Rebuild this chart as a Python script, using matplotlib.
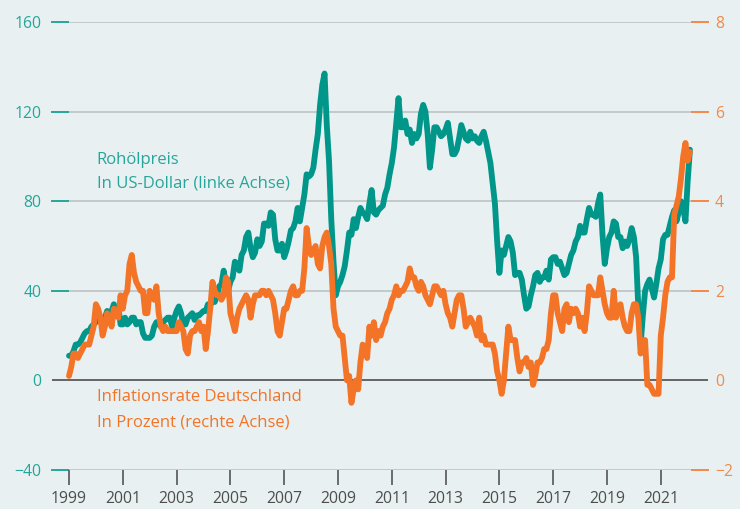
import matplotlib.pyplot as plt
import numpy as np

# Rohölpreis in US-Dollar, monatlich ab Januar 1999
oil = [
    11, 11, 13, 16, 16, 17, 19, 21, 22, 22, 24, 25,            # 1999
    26, 28, 28, 24, 28, 31, 29, 31, 34, 32, 33, 25,            # 2000
    25, 28, 25, 26, 28, 28, 25, 26, 26, 21, 19, 19,            # 2001
    19, 20, 24, 26, 25, 24, 26, 27, 28, 28, 24, 28,            # 2002
    31, 33, 30, 25, 25, 28, 29, 30, 27, 29, 29, 30,            # 2003
    31, 31, 34, 33, 38, 35, 38, 42, 43, 49, 43, 40,            # 2004
    44, 46, 53, 52, 49, 56, 58, 64, 66, 59, 55, 57,            # 2005
    63, 60, 62, 70, 70, 69, 75, 74, 63, 58, 58, 61,            # 2006
    55, 58, 62, 67, 68, 71, 77, 71, 77, 83, 92, 91,            # 2007
    92, 95, 103, 110, 123, 132, 137, 114, 98, 72, 53, 38,      # 2008
    42, 44, 47, 51, 58, 66, 65, 72, 68, 73, 77, 75,            # 2009
    74, 72, 79, 85, 75, 74, 76, 77, 78, 83, 86, 92,            # 2010
    97, 104, 115, 126, 113, 113, 116, 110, 112, 106, 110, 108, # 2011
    110, 119, 123, 120, 110, 95, 103, 113, 113, 111, 109, 110, # 2012
    112, 115, 108, 101, 101, 103, 108, 114, 111, 108, 107, 111, # 2013
    108, 109, 107, 106, 109, 111, 107, 102, 97, 88, 79, 62,    # 2014
    48, 58, 56, 60, 64, 62, 57, 47, 48, 48, 45, 38,            # 2015
    32, 33, 38, 42, 47, 48, 44, 46, 46, 49, 45, 54,            # 2016
    55, 55, 52, 53, 50, 47, 48, 52, 56, 58, 62, 64,            # 2017
    69, 66, 66, 72, 77, 74, 74, 73, 79, 83, 65, 52,            # 2018
    59, 64, 66, 71, 70, 64, 64, 59, 62, 60, 63, 68,            # 2019
    64, 55, 32, 16, 29, 40, 43, 45, 41, 37, 43, 50,            # 2020
    54, 63, 65, 65, 69, 73, 76, 71, 75, 80, 77, 71,            # 2021
    89, 103,                                                   # 2022
]

# Inflationsrate Deutschland in Prozent, monatlich ab Januar 1999
inflation = [
    0.1, 0.3, 0.6, 0.6, 0.5, 0.6, 0.7, 0.8, 0.8, 0.8, 1.0, 1.2,    # 1999
    1.7, 1.6, 1.4, 1.0, 1.2, 1.5, 1.4, 1.2, 1.6, 1.5, 1.4, 1.9,    # 2000
    1.6, 1.9, 2.0, 2.6, 2.8, 2.4, 2.2, 2.1, 2.0, 2.0, 1.5, 1.5,    # 2001
    2.0, 1.9, 1.8, 2.1, 1.5, 1.2, 1.1, 1.2, 1.1, 1.1, 1.1, 1.1,    # 2002
    1.1, 1.3, 1.2, 1.1, 0.7, 0.6, 1.0, 1.1, 1.1, 1.2, 1.3, 1.1,    # 2003
    1.2, 0.7, 1.1, 1.6, 2.2, 2.0, 1.9, 1.9, 1.8, 1.9, 2.3, 2.2,    # 2004
    1.5, 1.3, 1.1, 1.4, 1.6, 1.7, 1.8, 1.9, 1.8, 1.4, 1.7, 1.9,    # 2005
    1.9, 1.9, 2.0, 2.0, 1.9, 2.0, 1.9, 1.8, 1.5, 1.1, 1.0, 1.3,    # 2006
    1.6, 1.6, 1.8, 2.0, 2.1, 1.9, 1.9, 2.0, 2.0, 2.5, 3.4, 3.0,    # 2007
    2.8, 2.9, 3.0, 2.6, 2.5, 3.0, 3.2, 3.3, 3.0, 2.6, 1.6, 1.2,    # 2008
    1.1, 1.0, 1.0, 0.5, 0.0, 0.1, -0.5, -0.2, 0.0, -0.2, 0.4, 0.8, # 2009
    0.7, 0.5, 1.2, 1.0, 1.3, 0.9, 1.1, 1.0, 1.2, 1.3, 1.5, 1.6,    # 2010
    1.8, 1.9, 2.1, 1.9, 2.0, 2.0, 2.1, 2.2, 2.5, 2.3, 2.3, 2.1,    # 2011
    2.0, 2.2, 2.1, 1.9, 1.8, 1.7, 1.9, 2.1, 2.1, 2.0, 1.9, 2.0,    # 2012
    1.7, 1.5, 1.4, 1.2, 1.5, 1.8, 1.9, 1.9, 1.6, 1.2, 1.3, 1.4,    # 2013
    1.3, 1.2, 1.0, 1.4, 0.9, 1.0, 0.8, 0.8, 0.8, 0.8, 0.6, 0.2,    # 2014
    0.0, -0.3, 0.0, 0.6, 1.2, 0.9, 0.9, 0.9, 0.5, 0.2, 0.4, 0.4,   # 2015
    0.5, 0.3, 0.4, -0.1, 0.1, 0.4, 0.4, 0.5, 0.7, 0.7, 0.9, 1.5,   # 2016
    1.9, 1.9, 1.5, 1.3, 1.1, 1.6, 1.7, 1.3, 1.6, 1.5, 1.6, 1.5,    # 2017
    1.2, 1.4, 1.1, 1.5, 2.1, 2.0, 1.9, 1.9, 1.9, 2.3, 2.0, 1.7,    # 2018
    1.5, 1.4, 1.4, 2.0, 1.4, 1.6, 1.7, 1.4, 1.2, 1.1, 1.1, 1.5,    # 2019
    1.7, 1.7, 1.4, 0.6, 0.9, 0.9, -0.1, -0.1, -0.2, -0.3, -0.3, -0.3, # 2020
    1.0, 1.4, 1.9, 2.2, 2.3, 2.3, 3.7, 3.9, 4.1, 4.5, 5.0, 5.3,    # 2021
    4.9, 5.1,                                                      # 2022
]

start_year = 1999
year_ticks = list(range(1999, 2022, 2))
left_ticks = [-40, 0, 40, 80, 120, 160]
right_ticks = [-2, 0, 2, 4, 6, 8]

teal = '#00968a'
orange = '#f37327'
teal_label = '#26a69a'
orange_label = '#f28a4a'
bg = '#e8f0f1'

plt.rcParams['font.family'] = ['Open Sans', 'DejaVu Sans']

fig = plt.figure(figsize=(7.4, 5.09), dpi=100, facecolor=bg)
ax = fig.add_axes([52 / 740, 39 / 509, 656 / 740, 448 / 509])
ax.set_facecolor(bg)
ax.set_xlim(1998.368, 2022.755)
ax.set_ylim(-40, 160)
ax2 = ax.twinx()
ax2.set_ylim(-2, 8)

# gridlines with coloured end pieces
tr = ax.get_yaxis_transform()
edge = 16 / 656
for v in left_ticks:
    if v == 0:
        ax.plot([0, 1], [v, v], transform=tr, color='#5a5a5a', lw=1.3, zorder=1)
    else:
        ax.plot([edge, 1 - edge], [v, v], transform=tr, color='#c4c9cb', lw=1.4, zorder=1)
        ax.plot([0, edge], [v, v], transform=tr, color=teal_label, lw=1.4, zorder=1, clip_on=False)
        ax.plot([1 - edge, 1], [v, v], transform=tr, color=orange_label, lw=1.4, zorder=1, clip_on=False)

x_oil = start_year + np.arange(len(oil)) / 12
x_inf = start_year + np.arange(len(inflation)) / 12
ax.plot(x_oil, oil, color=teal, lw=4.2, solid_joinstyle='round', solid_capstyle='round', zorder=3)
ax2.plot(x_inf, inflation, color=orange, lw=4.2, solid_joinstyle='round', solid_capstyle='round', zorder=3)

for a in (ax, ax2):
    for s in a.spines.values():
        s.set_visible(False)

ax.set_xticks(year_ticks)
ax.tick_params(axis='x', length=10.8, width=1.2, color='#555555', labelcolor='#4d4d4d',
               labelsize=11.3, pad=4)
ax.set_yticks(left_ticks)
ax.tick_params(axis='y', length=0, pad=7.5, labelcolor=teal_label, labelsize=11.3)
ax2.set_yticks(right_ticks)
ax2.tick_params(axis='y', length=0, pad=5, labelcolor=orange_label, labelsize=11.3)

ax.text(0.068, 0.692, 'Rohölpreis', transform=ax.transAxes, color=teal_label,
        fontsize=12, va='center')
ax.text(0.068, 0.6406, 'In US-Dollar (linke Achse)', transform=ax.transAxes, color=teal_label,
        fontsize=12, va='center')
ax.text(0.068, 0.163, 'Inflationsrate Deutschland', transform=ax.transAxes, color=orange,
        fontsize=12, va='center')
ax.text(0.068, 0.105, 'In Prozent (rechte Achse)', transform=ax.transAxes, color=orange,
        fontsize=12, va='center')

fig.savefig('out.png', dpi=100, facecolor=bg)
